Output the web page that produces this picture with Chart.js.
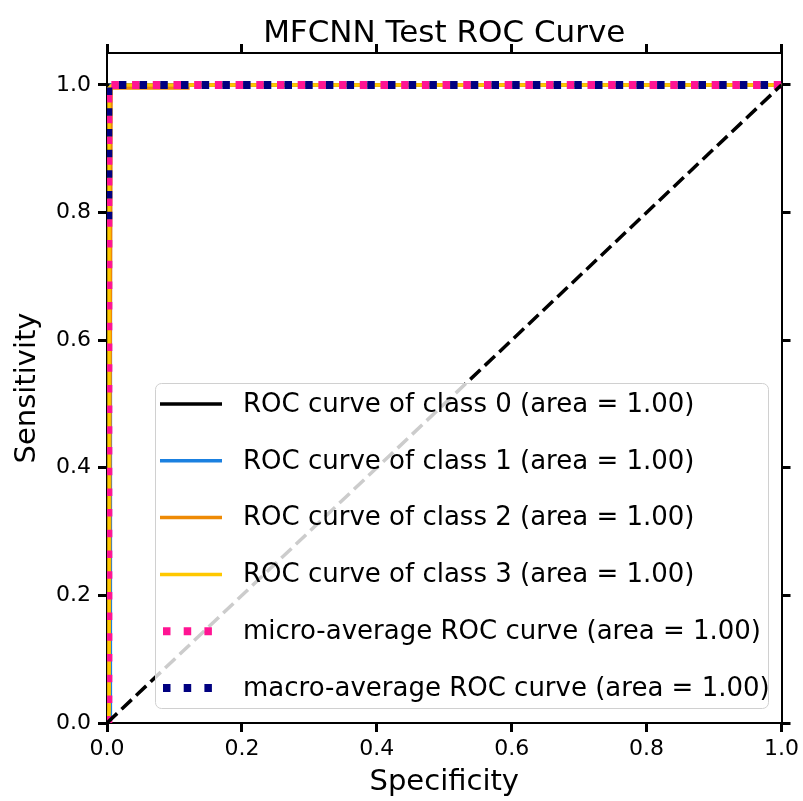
<!DOCTYPE html>
<html>
<head>
<meta charset="utf-8">
<script src="https://cdn.jsdelivr.net/npm/chart.js@4"></script>
<style>
  html, body { margin: 0; padding: 0; background: #fff; }
  #wrap { width: 803px; height: 801px; }
</style>
</head>
<body>
<div id="wrap"><canvas id="roc" width="803" height="801"></canvas></div>
<script>
// ROC points (false positive rate / true positive rate) per curve
const class0Fpr = [0, 0, 0.002, 1];
const class0Tpr = [0, 0.99, 1, 1];
const class1Fpr = [0, 0.005, 0.005, 0.006, 1];
const class1Tpr = [0, 0.01, 0.99, 1, 1];
const class2Fpr = [0, 0.003, 0.006, 0.12, 0.12, 1];
const class2Tpr = [0, 0.02, 0.995, 0.995, 1, 1];
const class3Fpr = [0, 0.003, 0.003, 0.008, 1];
const class3Tpr = [0, 0.01, 0.995, 1, 1];
const microFpr = [0, 0.002, 0.002, 1];
const microTpr = [0, 0.002, 1, 1];
const macroFpr = [0.002, 0.002, 1];
const macroTpr = [0.77, 1, 1];
const chanceFpr = [0, 1];
const chanceTpr = [0, 1];

const curveLabels = [
    'ROC curve of class 0 (area = 1.00)',
    'ROC curve of class 1 (area = 1.00)',
    'ROC curve of class 2 (area = 1.00)',
    'ROC curve of class 3 (area = 1.00)',
    'micro-average ROC curve (area = 1.00)',
    'macro-average ROC curve (area = 1.00)'
];
const tickValues = [0, 0.2, 0.4, 0.6, 0.8, 1.0];

const FONT = '"DejaVu Sans", sans-serif';

function toPoints(xs, ys) {
    return xs.map((x, i) => ({ x: x, y: ys[i] }));
}

// Chart.js paints higher `order` first, so later curves sit on top
function solid(label, xs, ys, color, order) {
    return {
        label: label,
        data: toPoints(xs, ys),
        borderColor: color,
        backgroundColor: color,
        borderWidth: 3.5,
        showLine: true,
        pointRadius: 0,
        tension: 0,
        clip: 0,
        order: order
    };
}

function dotted(label, xs, ys, color, offset, order) {
    return {
        label: label,
        data: toPoints(xs, ys),
        borderColor: color,
        backgroundColor: color,
        borderWidth: 8,
        borderDash: [7.5, 13.2],
        borderDashOffset: offset,
        borderCapStyle: 'butt',
        showLine: true,
        pointRadius: 0,
        tension: 0,
        clip: 0,
        order: order
    };
}

const datasets = [
    solid(curveLabels[0], class0Fpr, class0Tpr, '#000000', 7),
    solid(curveLabels[1], class1Fpr, class1Tpr, '#1a80e0', 6),
    solid(curveLabels[2], class2Fpr, class2Tpr, '#ee8a05', 5),
    solid(curveLabels[3], class3Fpr, class3Tpr, '#ffc800', 4),
    dotted(curveLabels[4], microFpr, microTpr, '#ff1493', 0, 3),
    dotted(curveLabels[5], macroFpr, macroTpr, '#000080', 8.3, 2),
    {
        label: 'chance',
        data: toPoints(chanceFpr, chanceTpr),
        borderColor: '#000000',
        borderWidth: 3.5,
        borderDash: [14, 6],
        borderCapStyle: 'butt',
        showLine: true,
        pointRadius: 0,
        clip: 0,
        order: 1
    }
];

// Legend box drawn inside the plot, over the chance line
const insideLegend = {
    id: 'insideLegend',
    afterDatasetsDraw(chart) {
        const ctx = chart.ctx;
        const x0 = 155.5, y0 = 383.5, w = 613, h = 325, r = 6;
        ctx.save();
        ctx.beginPath();
        ctx.moveTo(x0 + r, y0);
        ctx.arcTo(x0 + w, y0, x0 + w, y0 + h, r);
        ctx.arcTo(x0 + w, y0 + h, x0, y0 + h, r);
        ctx.arcTo(x0, y0 + h, x0, y0, r);
        ctx.arcTo(x0, y0, x0 + w, y0, r);
        ctx.closePath();
        ctx.fillStyle = 'rgba(255,255,255,0.8)';
        ctx.fill();
        ctx.strokeStyle = '#d0d0d0';
        ctx.lineWidth = 1;
        ctx.stroke();

        ctx.font = '26px ' + FONT;
        ctx.textBaseline = 'middle';
        ctx.textAlign = 'left';
        for (let i = 0; i < 6; i++) {
            const ds = chart.data.datasets[i];
            const y = 404 + i * 56.8;
            ctx.beginPath();
            ctx.strokeStyle = ds.borderColor;
            ctx.lineWidth = ds.borderWidth;
            ctx.lineCap = 'butt';
            if (ds.borderDash) {
                ctx.setLineDash(ds.borderDash);
                ctx.moveTo(163, y);
            } else {
                ctx.moveTo(160, y);
            }
            ctx.lineTo(222, y);
            ctx.stroke();
            ctx.setLineDash([]);
            ctx.fillStyle = '#000';
            ctx.fillText(ds.label, 243, y + 1);
        }
        ctx.restore();
    }
};

const plotTitle = {
    id: 'plotTitle',
    afterDraw(chart) {
        const ctx = chart.ctx;
        const area = chart.chartArea;
        ctx.save();
        ctx.font = '31px ' + FONT;
        ctx.fillStyle = '#000';
        ctx.textAlign = 'center';
        ctx.textBaseline = 'alphabetic';
        ctx.fillText('MFCNN Test ROC Curve', (area.left + area.right) / 2, 42);
        ctx.restore();
    }
};

function fixedSize(prop, size) {
    return function(scale) { scale[prop] = size; };
}

function fixedTicks(scale) {
    scale.ticks = tickValues.map(v => ({ value: v }));
}

const tickGrid = {
    display: true,
    drawOnChartArea: false,
    drawTicks: true,
    tickLength: 9,
    tickWidth: 3,
    tickColor: '#000'
};
const axisBorder = { display: true, color: '#000', width: 2 };
const tickFont = { family: FONT, size: 22 };

new Chart(document.getElementById('roc'), {
    type: 'scatter',
    data: { datasets: datasets },
    plugins: [insideLegend, plotTitle],
    options: {
        responsive: false,
        animation: false,
        layout: { padding: 0 },
        plugins: {
            legend: { display: false },
            tooltip: { enabled: false }
        },
        scales: {
            x: {
                type: 'linear',
                position: 'bottom',
                min: 0,
                max: 1,
                afterFit: fixedSize('height', 78),
                afterBuildTicks: fixedTicks,
                grid: tickGrid,
                border: axisBorder,
                ticks: {
                    padding: 4,
                    color: '#000',
                    font: tickFont,
                    callback: v => v.toFixed(1)
                },
                title: {
                    display: true,
                    text: 'Specificity',
                    color: '#000',
                    font: { family: FONT, size: 29 },
                    padding: { top: 0, bottom: 1 }
                }
            },
            x2: {
                type: 'linear',
                position: 'top',
                min: 0,
                max: 1,
                afterFit: fixedSize('height', 53),
                afterBuildTicks: fixedTicks,
                grid: tickGrid,
                border: axisBorder,
                ticks: { display: false }
            },
            y: {
                type: 'linear',
                position: 'left',
                min: 0,
                max: 1.05,
                afterFit: fixedSize('width', 107),
                afterBuildTicks: fixedTicks,
                grid: tickGrid,
                border: axisBorder,
                ticks: {
                    padding: 7,
                    color: '#000',
                    font: tickFont,
                    callback: v => v.toFixed(1)
                },
                title: {
                    display: true,
                    text: 'Sensitivity',
                    color: '#000',
                    font: { family: FONT, size: 29 },
                    padding: { top: 10, bottom: 0 }
                }
            },
            y2: {
                type: 'linear',
                position: 'right',
                min: 0,
                max: 1.05,
                afterFit: fixedSize('width', 20),
                afterBuildTicks: fixedTicks,
                grid: tickGrid,
                border: axisBorder,
                ticks: { display: false }
            }
        }
    }
});
</script>
</body>
</html>
